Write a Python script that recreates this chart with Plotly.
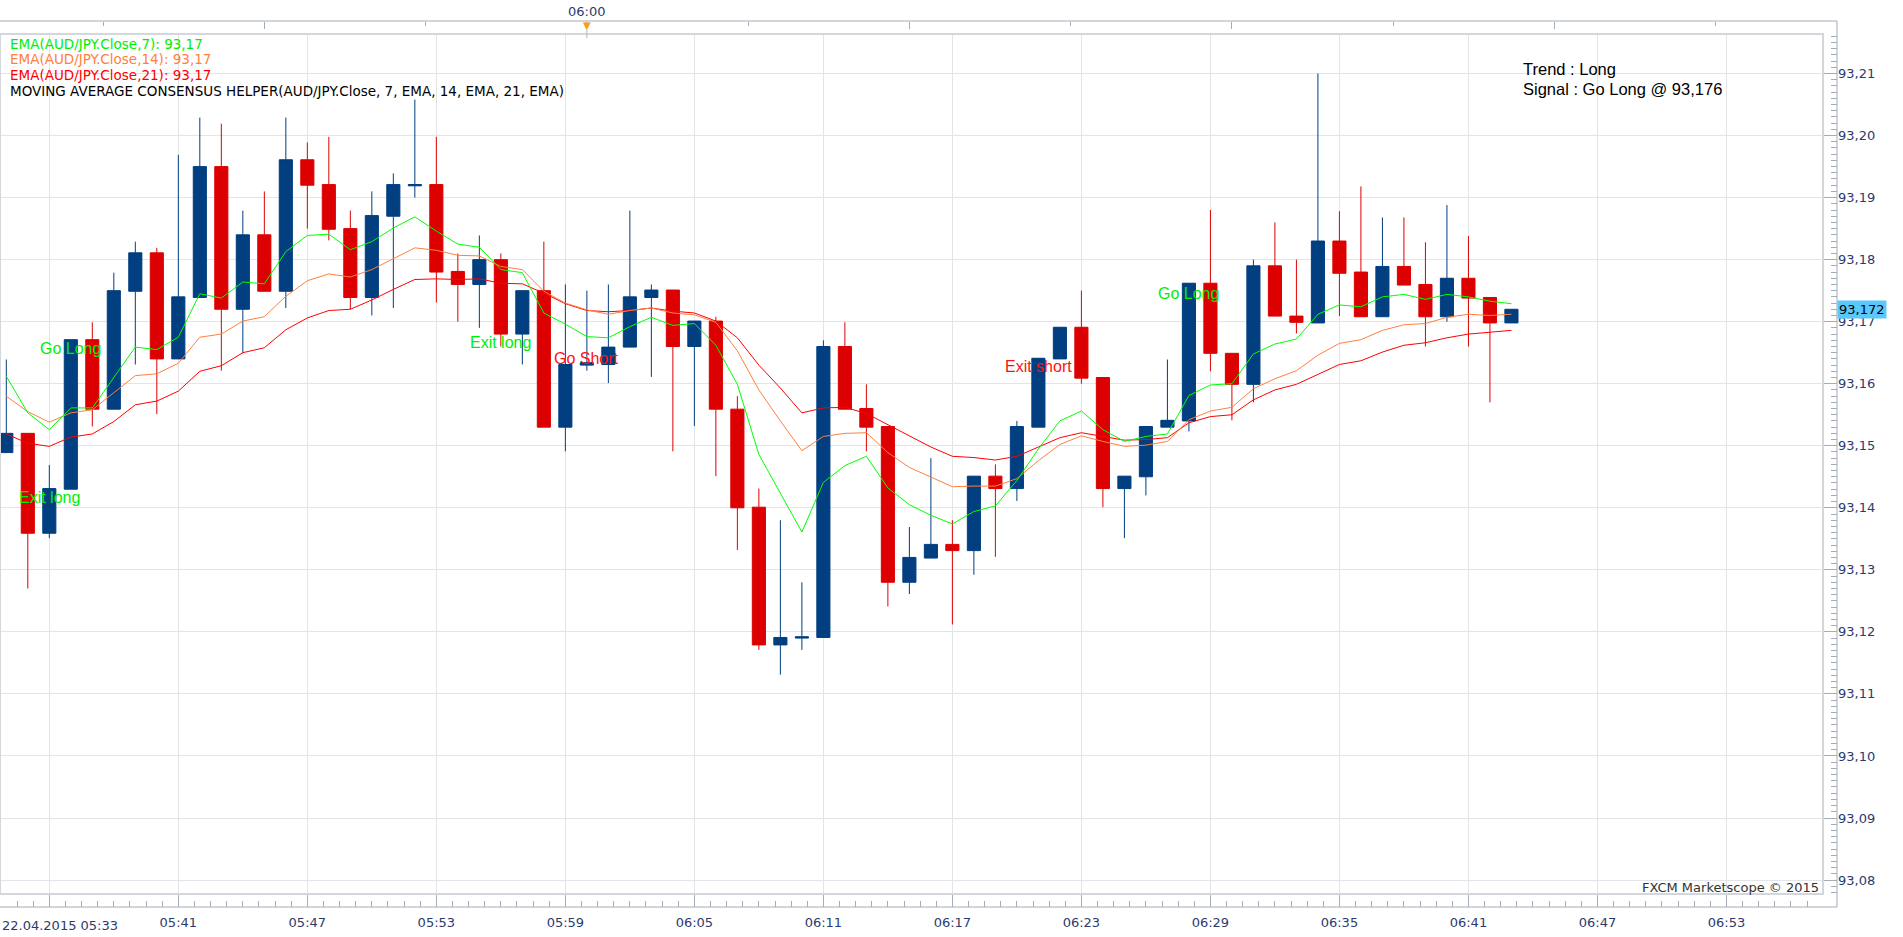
import pandas as pd
import plotly.graph_objects as go

# ---------------- data ----------------
start_time = "2015-04-22 05:33"
n_bars = 71
times = pd.date_range(start_time, periods=n_bars, freq="min")

opens = [93.1489, 93.1520, 93.1359, 93.1430, 93.1671, 93.1559, 93.1749, 93.1811, 93.1640, 93.1739,
         93.1950, 93.1720, 93.1840, 93.1749, 93.1961, 93.1921, 93.1850, 93.1739, 93.1870, 93.1919,
         93.1921, 93.1781, 93.1760, 93.1800, 93.1680, 93.1750, 93.1530, 93.1630, 93.1631, 93.1659,
         93.1739, 93.1751, 93.1660, 93.1701, 93.1559, 93.1401, 93.1179, 93.1190, 93.1191, 93.1660,
         93.1560, 93.1531, 93.1280, 93.1319, 93.1341, 93.1331, 93.1451, 93.1431, 93.1530, 93.1640,
         93.1691, 93.1610, 93.1431, 93.1450, 93.1530, 93.1540, 93.1762, 93.1649, 93.1599, 93.1790,
         93.1709, 93.1698, 93.1830, 93.1780, 93.1708, 93.1789, 93.1760, 93.1708, 93.1770, 93.1739,
         93.1698]
highs = [93.1639, 93.1520, 93.1469, 93.1671, 93.1699, 93.1779, 93.1829, 93.1819, 93.1969, 93.2029,
         93.2019, 93.1879, 93.1910, 93.2029, 93.1989, 93.1998, 93.1879, 93.1910, 93.1939, 93.2058,
         93.1998, 93.1810, 93.1839, 93.1810, 93.1750, 93.1829, 93.1760, 93.1750, 93.1760, 93.1879,
         93.1760, 93.1751, 93.1701, 93.1708, 93.1580, 93.1431, 93.1380, 93.1280, 93.1670, 93.1699,
         93.1599, 93.1531, 93.1369, 93.1480, 93.1380, 93.1451, 93.1470, 93.1540, 93.1641, 93.1691,
         93.1750, 93.1610, 93.1451, 93.1531, 93.1639, 93.1762, 93.1880, 93.1649, 93.1800, 93.1860,
         93.1800, 93.2100, 93.1878, 93.1918, 93.1868, 93.1868, 93.1828, 93.1888, 93.1838, 93.1739,
         93.1720]
lows = [93.1489, 93.1270, 93.1351, 93.1430, 93.1531, 93.1559, 93.1631, 93.1551, 93.1640, 93.1739,
        93.1621, 93.1649, 93.1749, 93.1722, 93.1850, 93.1831, 93.1720, 93.1710, 93.1722, 93.1900,
        93.1731, 93.1700, 93.1690, 93.1660, 93.1631, 93.1530, 93.1491, 93.1621, 93.1601, 93.1659,
        93.1611, 93.1491, 93.1532, 93.1451, 93.1332, 93.1171, 93.1131, 93.1171, 93.1191, 93.1559,
        93.1491, 93.1241, 93.1261, 93.1319, 93.1212, 93.1292, 93.1321, 93.1411, 93.1530, 93.1640,
        93.1600, 93.1401, 93.1351, 93.1420, 93.1530, 93.1523, 93.1620, 93.1541, 93.1570, 93.1709,
        93.1681, 93.1698, 93.1709, 93.1708, 93.1708, 93.1759, 93.1660, 93.1700, 93.1660, 93.1570,
        93.1698]
closes = [93.1520, 93.1359, 93.1431, 93.1671, 93.1559, 93.1750, 93.1811, 93.1640, 93.1740, 93.1950,
          93.1720, 93.1840, 93.1749, 93.1961, 93.1920, 93.1849, 93.1739, 93.1871, 93.1921, 93.1921,
          93.1780, 93.1760, 93.1800, 93.1680, 93.1750, 93.1530, 93.1631, 93.1634, 93.1659, 93.1740,
          93.1751, 93.1660, 93.1701, 93.1559, 93.1400, 93.1179, 93.1191, 93.1192, 93.1660, 93.1559,
          93.1530, 93.1280, 93.1320, 93.1341, 93.1331, 93.1451, 93.1431, 93.1531, 93.1641, 93.1691,
          93.1609, 93.1431, 93.1451, 93.1531, 93.1541, 93.1762, 93.1649, 93.1599, 93.1790, 93.1709,
          93.1699, 93.1830, 93.1778, 93.1708, 93.1789, 93.1759, 93.1708, 93.1770, 93.1738, 93.1698,
          93.1720]

ema7 = [93.1612, 93.1553, 93.1526, 93.1561, 93.1561, 93.1609, 93.1659, 93.1655, 93.1675, 93.1745,
        93.1738, 93.1764, 93.1761, 93.1813, 93.1839, 93.1841, 93.1816, 93.1829, 93.1851, 93.1869,
        93.1846, 93.1825, 93.1820, 93.1784, 93.1779, 93.1714, 93.1696, 93.1676, 93.1674, 93.1692,
        93.1707, 93.1694, 93.1697, 93.1662, 93.1599, 93.1486, 93.1423, 93.1361, 93.1441, 93.1468,
        93.1483, 93.1432, 93.1405, 93.1388, 93.1374, 93.1394, 93.1403, 93.1444, 93.1495, 93.1540,
        93.1556, 93.1526, 93.1507, 93.1515, 93.1519, 93.1581, 93.1598, 93.1600, 93.1648, 93.1664,
        93.1672, 93.1712, 93.1727, 93.1724, 93.1740, 93.1744, 93.1736, 93.1744, 93.1740, 93.1733,
        93.1729]
ema14 = [93.1580, 93.1555, 93.1538, 93.1553, 93.1558, 93.1585, 93.1613, 93.1616, 93.1633, 93.1675,
         93.1680, 93.1701, 93.1708, 93.1741, 93.1766, 93.1777, 93.1772, 93.1784, 93.1802, 93.1819,
         93.1815, 93.1807, 93.1806, 93.1789, 93.1784, 93.1749, 93.1730, 93.1719, 93.1712, 93.1718,
         93.1722, 93.1714, 93.1711, 93.1699, 93.1653, 93.1590, 93.1540, 93.1492, 93.1515, 93.1520,
         93.1521, 93.1489, 93.1465, 93.1450, 93.1434, 93.1435, 93.1435, 93.1447, 93.1476, 93.1502,
         93.1516, 93.1507, 93.1499, 93.1501, 93.1507, 93.1542, 93.1556, 93.1562, 93.1592, 93.1608,
         93.1621, 93.1646, 93.1665, 93.1671, 93.1686, 93.1695, 93.1697, 93.1707, 93.1712, 93.1710,
         93.1712]
ema21 = [93.1519, 93.1504, 93.1499, 93.1514, 93.1519, 93.1539, 93.1566, 93.1572, 93.1588, 93.1620,
         93.1629, 93.1650, 93.1658, 93.1687, 93.1706, 93.1718, 93.1720, 93.1735, 93.1752, 93.1768,
         93.1769, 93.1768, 93.1769, 93.1762, 93.1761, 93.1746, 93.1729, 93.1718, 93.1716, 93.1718,
         93.1722, 93.1717, 93.1714, 93.1701, 93.1674, 93.1630, 93.1593, 93.1553, 93.1561, 93.1562,
         93.1552, 93.1534, 93.1516, 93.1498, 93.1483, 93.1481, 93.1477, 93.1483, 93.1498, 93.1513,
         93.1521, 93.1515, 93.1509, 93.1510, 93.1513, 93.1537, 93.1547, 93.1550, 93.1574, 93.1590,
         93.1599, 93.1615, 93.1631, 93.1637, 93.1651, 93.1662, 93.1666, 93.1674, 93.1680, 93.1683,
         93.1686]

# signal labels: bar index, text, price level, colour
sig_index = [2, 3, 23, 27, 48, 55]
sig_text = ["Exit long", "Go Long", "Exit long", "Go Short", "Exit short", "Go Long"]
sig_price = [93.1416, 93.1656, 93.1666, 93.1640, 93.1627, 93.1746]
sig_color = ["#00ee00", "#00ee00", "#00ee00", "#ff1010", "#ff1010", "#00ee00"]

bottom_ticks = ["05:35", "05:41", "05:47", "05:53", "05:59", "06:05", "06:11", "06:17",
                "06:23", "06:29", "06:35", "06:41", "06:47", "06:53"]
top_ticks = ["05:45", "06:00", "06:15", "06:30", "06:45"]
y_ticks = [93.08, 93.09, 93.10, 93.11, 93.12, 93.13, 93.14, 93.15, 93.16, 93.17,
           93.18, 93.19, 93.20, 93.21]

# ---------------- layout geometry (pixels of the 1903x937 page) ----------------
W, H = 1903, 937
def px(x):
    return x / W
def py(y):
    return 1 - y / H

PLOT_L, PLOT_R, PLOT_T, PLOT_B = 0, 1823, 34, 894
AXIS_R, AXIS_B, AXIS_T = 1837, 907, 21
day = "2015-04-22 "
x_range = [pd.Timestamp(start_time) - pd.Timedelta(seconds=17.6),
           pd.Timestamp(start_time) + pd.Timedelta(minutes=84.49)]
y_range = [93.07775, 93.21637]

NAVY = "#2d3a6e"
AXC = "#a3acb8"
GRID = "#e2e4e7"
BLUE = "#013f80"
RED = "#dd0000"
UI_FONT = "DejaVu Sans"
TXT_FONT = "Liberation Sans"

fig = go.Figure()

fig.add_trace(go.Candlestick(
    x=times, open=opens, high=highs, low=lows, close=closes,
    increasing=dict(line=dict(color=BLUE, width=1), fillcolor=BLUE),
    decreasing=dict(line=dict(color=RED, width=1), fillcolor=RED),
    whiskerwidth=0, showlegend=False, hoverinfo="skip",
))
fig.add_trace(go.Scatter(x=times, y=ema21, mode="lines", line=dict(color="#ff0000", width=1),
                         showlegend=False, hoverinfo="skip"))
fig.add_trace(go.Scatter(x=times, y=ema14, mode="lines", line=dict(color="#ff8040", width=1),
                         showlegend=False, hoverinfo="skip"))
fig.add_trace(go.Scatter(x=times, y=ema7, mode="lines", line=dict(color="#00ff00", width=1),
                         showlegend=False, hoverinfo="skip"))
# carrier for the top time strip axis
fig.add_trace(go.Scatter(x=[times[0]], y=[None], xaxis="x2", yaxis="y", mode="markers",
                         showlegend=False, hoverinfo="skip"))

tick_font = dict(family=UI_FONT, size=13, color=NAVY)

fig.update_layout(
    width=W, height=H, margin=dict(l=0, r=0, t=0, b=0),
    paper_bgcolor="white", plot_bgcolor="white",
    separators=",.", hovermode=False, boxgap=0.39, boxgroupgap=0,
    xaxis=dict(
        type="date", domain=[px(PLOT_L), px(PLOT_R)], range=x_range,
        anchor="free", position=py(AXIS_B), showline=False, zeroline=False,
        tickmode="array", tickvals=[day + t for t in bottom_ticks],
        ticktext=[""] + bottom_ticks[1:],
        ticks="inside", ticklen=12, tickwidth=1, tickcolor=AXC, tickfont=tick_font,
        ticklabelstandoff=6,
        showgrid=True, gridcolor=GRID, gridwidth=1,
        minor=dict(ticks="inside", ticklen=6, tickcolor=AXC, tick0=day + bottom_ticks[0],
                   dtick=45000, showgrid=False),
        rangeslider=dict(visible=False), fixedrange=True,
    ),
    xaxis2=dict(
        type="date", overlaying="x", side="top", anchor="free", position=py(AXIS_T),
        range=x_range, showline=False, zeroline=False, showgrid=False,
        tickmode="array", tickvals=[day + t for t in top_ticks], showticklabels=False,
        ticks="inside", ticklen=7, tickcolor=AXC,
        minor=dict(ticks="inside", ticklen=4, tickcolor=AXC, tick0=day + "05:37:30",
                   dtick=450000, showgrid=False),
        fixedrange=True,
    ),
    yaxis=dict(
        domain=[py(PLOT_B), py(PLOT_T)], range=y_range,
        anchor="free", position=px(AXIS_R), side="right",
        tickmode="array", tickvals=y_ticks, tickformat=".2f",
        ticks="inside", ticklen=14, tickwidth=1, tickcolor=AXC, tickfont=tick_font,
        showgrid=True, gridcolor=GRID, gridwidth=1, showline=False, zeroline=False,
        minor=dict(ticks="inside", ticklen=6, tickcolor=AXC, tick0=93.08, dtick=0.001,
                   showgrid=False),
        fixedrange=True,
    ),
)

shapes = [
    dict(type="rect", xref="paper", yref="paper", x0=px(PLOT_L), x1=px(PLOT_R),
         y0=py(PLOT_B), y1=py(PLOT_T), line=dict(color="#d3d7dc", width=2), layer="above"),
    dict(type="line", xref="paper", yref="paper", x0=px(0), x1=px(AXIS_R),
         y0=py(AXIS_B), y1=py(AXIS_B), line=dict(color=AXC, width=1)),
    dict(type="line", xref="paper", yref="paper", x0=px(0), x1=px(AXIS_R),
         y0=py(AXIS_T), y1=py(AXIS_T), line=dict(color=AXC, width=1)),
    dict(type="line", xref="paper", yref="paper", x0=px(AXIS_R), x1=px(AXIS_R),
         y0=py(AXIS_B), y1=py(AXIS_T), line=dict(color=AXC, width=1)),
    dict(type="line", xref="x", yref="paper", x0=day + "06:00", x1=day + "06:00",
         y0=py(30), y1=py(38), line=dict(color="#b0b6c0", width=1)),
]
fig.update_layout(shapes=shapes)

ann = []
legend_lines = [
    ("EMA(AUD/JPY.Close,7): " + f"{ema7[-1]:.2f}".replace(".", ","), "#00ee00", 44),
    ("EMA(AUD/JPY.Close,14): " + f"{ema14[-1]:.2f}".replace(".", ","), "#ff8040", 59.5),
    ("EMA(AUD/JPY.Close,21): " + f"{ema21[-1]:.2f}".replace(".", ","), "#ff0000", 75),
    ("MOVING AVERAGE CONSENSUS HELPER(AUD/JPY.Close, 7, EMA, 14, EMA, 21, EMA)", "#000000", 90.5),
]
for text, color, yy in legend_lines:
    ann.append(dict(text=text, xref="paper", yref="paper", x=px(8), y=py(yy),
                    xanchor="left", yanchor="middle", showarrow=False,
                    font=dict(family=UI_FONT, size=13.5, color=color)))

last_go = max(i for i, t in zip(sig_index, sig_text) if t.startswith("Go"))
signal_price = f"{closes[last_go]:.3f}".replace(".", ",")
ann.append(dict(text="Trend : Long", xref="paper", yref="paper", x=px(1521), y=py(69.5),
                xanchor="left", yanchor="middle", showarrow=False,
                font=dict(family=TXT_FONT, size=16.5, color="black")))
ann.append(dict(text="Signal : Go Long @ " + signal_price, xref="paper", yref="paper",
                x=px(1521), y=py(89.5), xanchor="left", yanchor="middle", showarrow=False,
                font=dict(family=TXT_FONT, size=16.5, color="black")))

for i, t, p, c in zip(sig_index, sig_text, sig_price, sig_color):
    ann.append(dict(text=t, x=times[i], y=p, xref="x", yref="y", xanchor="center",
                    yanchor="middle", showarrow=False,
                    font=dict(family=TXT_FONT, size=16, color=c)))

ann.append(dict(text="FXCM Marketscope © 2015", xref="paper", yref="paper", x=px(1821),
                y=py(887), xanchor="right", yanchor="middle", showarrow=False,
                font=dict(family=UI_FONT, size=13, color="#333333")))
ann.append(dict(text="22.04.2015 05:33", xref="paper", yref="paper", x=px(0), y=py(925),
                xanchor="left", yanchor="middle", showarrow=False, font=tick_font))
ann.append(dict(text="06:00", xref="x", yref="paper", x=day + "06:00", y=py(11),
                xanchor="center", yanchor="middle", showarrow=False, font=tick_font))
ann.append(dict(text="▼", xref="x", yref="paper", x=day + "06:00", y=py(26),
                xanchor="center", yanchor="middle", showarrow=False,
                font=dict(family=UI_FONT, size=10, color="#f5a020")))
ann.append(dict(text=f"{closes[-1]:.3f}".replace(".", ","), xref="paper", yref="y",
                x=px(AXIS_R), y=closes[-1], xanchor="left", yanchor="middle",
                showarrow=False, bgcolor="#5ac8fa", borderpad=1,
                font=dict(family=UI_FONT, size=13, color="#000000")))
fig.update_layout(annotations=ann)

fig.write_html("out.html")
